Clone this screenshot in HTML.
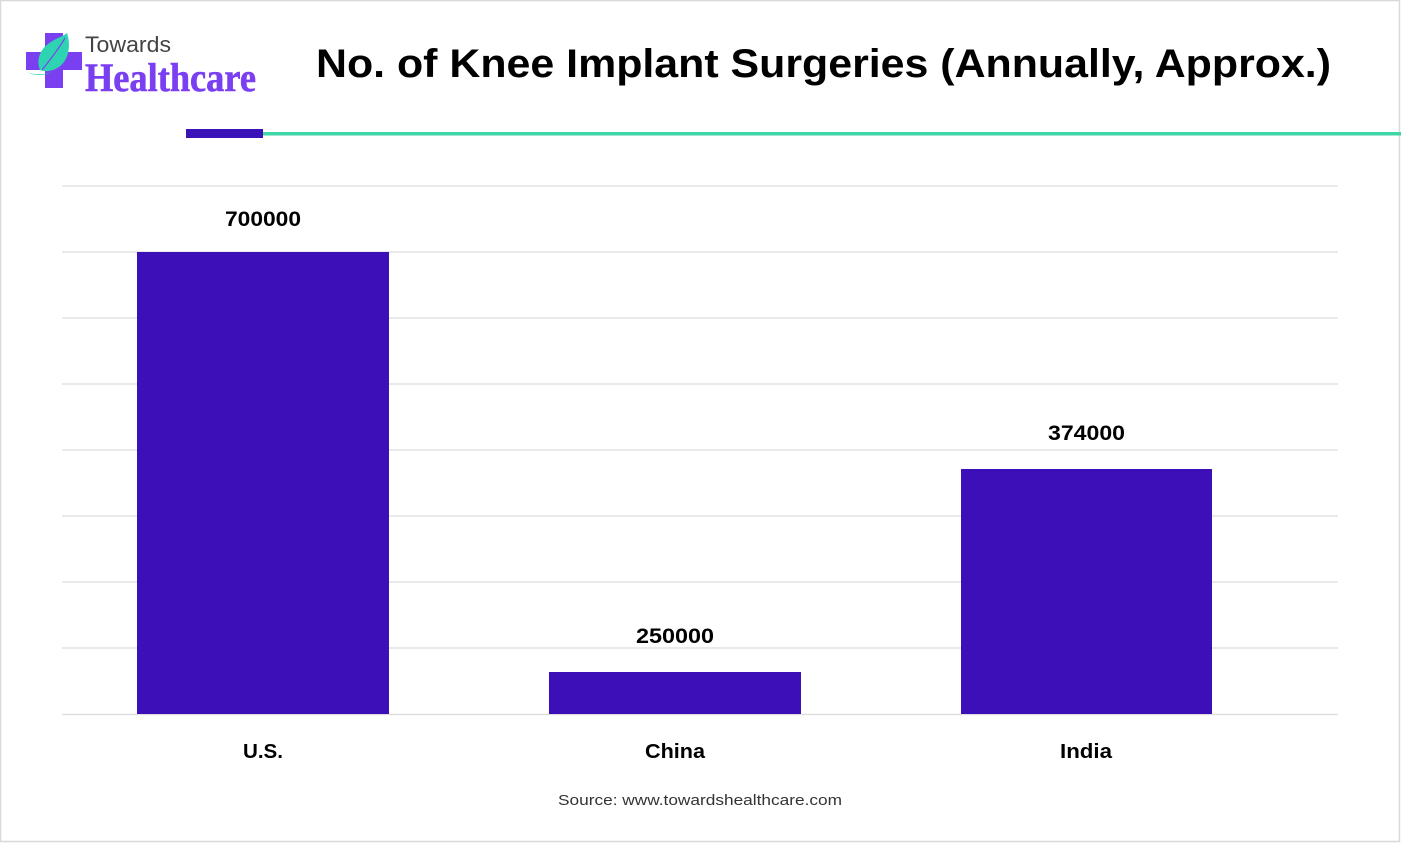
<!DOCTYPE html>
<html><head><meta charset="utf-8"><style>
html,body{margin:0;padding:0;background:#fff;}
svg{display:block;}
</style></head><body>
<svg width="1401" height="843" viewBox="0 0 1401 843" xmlns="http://www.w3.org/2000/svg">
<rect x="0.5" y="0.5" width="1399" height="841" fill="#fff" stroke="#d9d9d9" stroke-width="1.5"/>
<!-- logo -->
<rect x="45" y="33" width="18" height="55" fill="#7b3ff2"/>
<rect x="26" y="52" width="56" height="18" fill="#7b3ff2"/>
<path d="M40 70 C36 60 40 50 48 44 C56 38 64 36 67 33 C70 42 70 54 64 62 C58 70 48 73 40 70 Z" fill="#2ed3b1"/>
<path d="M27 72 C34 75 44 75 52 72 C46 75 36 77 27 72 Z" fill="#2ed3b1"/>
<path d="M42 70 C50 60 58 50 65 38" stroke="#7b3ff2" stroke-width="1.2" fill="none"/>
<text x="85" y="52" font-family="Liberation Sans, sans-serif" font-size="22" fill="#444" textLength="86" lengthAdjust="spacingAndGlyphs">Towards</text>
<text x="85" y="91" font-family="Liberation Serif, serif" font-weight="bold" font-size="40" fill="#7b3ff2" stroke="#7b3ff2" stroke-width="0.6" textLength="171" lengthAdjust="spacingAndGlyphs">Healthcare</text>
<!-- title -->
<text x="316" y="77" font-family="Liberation Sans, sans-serif" font-weight="bold" font-size="40" fill="#000" textLength="1015" lengthAdjust="spacingAndGlyphs">No. of Knee Implant Surgeries (Annually, Approx.)</text>
<!-- underline -->
<rect x="263" y="132" width="1138" height="3.5" fill="#3fd6a8"/>
<rect x="186" y="129" width="77" height="9" fill="#3a12b8"/>
<!-- grid -->
<g stroke="#dcdcdc" stroke-width="1.2">
<line x1="62" y1="186" x2="1338" y2="186"/>
<line x1="62" y1="252" x2="1338" y2="252"/>
<line x1="62" y1="318" x2="1338" y2="318"/>
<line x1="62" y1="384" x2="1338" y2="384"/>
<line x1="62" y1="450" x2="1338" y2="450"/>
<line x1="62" y1="516" x2="1338" y2="516"/>
<line x1="62" y1="582" x2="1338" y2="582"/>
<line x1="62" y1="648" x2="1338" y2="648"/>
<line x1="62" y1="714.5" x2="1338" y2="714.5"/>
</g>
<!-- bars -->
<rect x="137" y="252" width="252" height="462" fill="#3d0fb8"/>
<rect x="549" y="672" width="252" height="42" fill="#3d0fb8"/>
<rect x="961" y="469" width="251" height="245" fill="#3d0fb8"/>
<!-- value labels -->
<g font-family="Liberation Sans, sans-serif" font-weight="bold" font-size="21" fill="#000">
<text x="225" y="226" textLength="76" lengthAdjust="spacingAndGlyphs">700000</text>
<text x="636" y="643" textLength="78" lengthAdjust="spacingAndGlyphs">250000</text>
<text x="1048" y="440" textLength="77" lengthAdjust="spacingAndGlyphs">374000</text>
</g>
<!-- category labels -->
<g font-family="Liberation Sans, sans-serif" font-weight="bold" font-size="20" fill="#000">
<text x="243" y="758" textLength="40" lengthAdjust="spacingAndGlyphs">U.S.</text>
<text x="645" y="758" textLength="60" lengthAdjust="spacingAndGlyphs">China</text>
<text x="1060" y="758" textLength="52" lengthAdjust="spacingAndGlyphs">India</text>
</g>
<text x="558" y="805" font-family="Liberation Sans, sans-serif" font-size="15" fill="#333" textLength="284" lengthAdjust="spacingAndGlyphs">Source: www.towardshealthcare.com</text>
</svg>
</body></html>
